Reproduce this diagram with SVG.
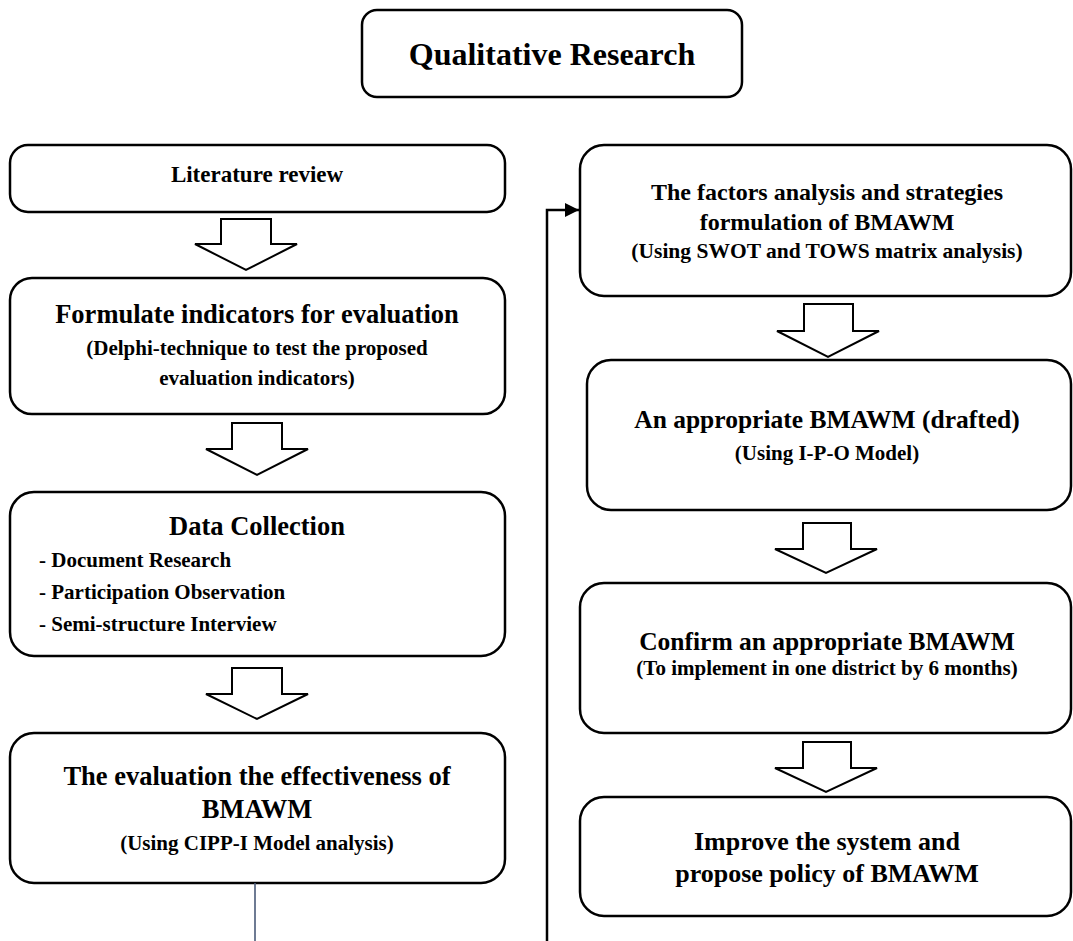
<svg xmlns="http://www.w3.org/2000/svg" width="1073" height="941" viewBox="0 0 1073 941">
<defs>
<style>
.box{fill:#fff;stroke:#000;stroke-width:2.5}
.blk{fill:#fff;stroke:#000;stroke-width:2;stroke-linejoin:miter}
text{font-family:"Liberation Serif","Times New Roman",serif;font-weight:bold;fill:#000}
.c{text-anchor:middle}
.h{font-size:26.5px}
.s{font-size:21px}
</style>
<marker id="ah" viewBox="0 0 14 14" refX="14" refY="7" markerWidth="14" markerHeight="14" markerUnits="userSpaceOnUse" orient="auto">
<path d="M0,0 L14,7 L0,14 Z" fill="#000"/>
</marker>
</defs>
<rect width="1073" height="941" fill="#fff"/>

<g id="title">
<rect class="box" x="362" y="10" width="380" height="87" rx="15"/>
<text class="c" x="552" y="65" font-size="32">Qualitative Research</text>
</g>

<g id="literature">
<rect class="box" x="10" y="145" width="495" height="67" rx="18"/>
<text class="c" x="257" y="182" font-size="23">Literature review</text>
</g>

<g id="formulate">
<rect class="box" x="10" y="278" width="495" height="136" rx="22"/>
<text class="c h" x="257" y="323">Formulate indicators for evaluation</text>
<text class="c s" x="257" y="355">(Delphi-technique to test the proposed</text>
<text class="c s" x="257" y="385">evaluation indicators)</text>
</g>

<g id="datacollection">
<rect class="box" x="10" y="492" width="495" height="164" rx="24"/>
<text class="c h" x="257" y="535">Data Collection</text>
<text class="s" x="39" y="567">- Document Research</text>
<text class="s" x="39" y="599">- Participation Observation</text>
<text class="s" x="39" y="631">- Semi-structure Interview</text>
</g>

<g id="evaluation">
<rect class="box" x="10" y="733" width="495" height="150" rx="24"/>
<text class="c h" x="257" y="785">The evaluation the effectiveness of</text>
<text class="c h" x="257" y="818">BMAWM</text>
<text class="c s" x="257" y="850">(Using CIPP-I Model analysis)</text>
</g>

<g id="factors">
<rect class="box" x="580" y="145" width="491" height="151" rx="24"/>
<text class="c" x="827" y="200" font-size="24">The factors analysis and strategies</text>
<text class="c" x="827" y="230" font-size="24">formulation of BMAWM</text>
<text class="c" x="827" y="258" font-size="21.5">(Using SWOT and TOWS matrix analysis)</text>
</g>

<g id="drafted">
<rect class="box" x="587" y="360" width="484" height="150" rx="24"/>
<text class="c" x="827" y="428" font-size="25.5">An appropriate BMAWM (drafted)</text>
<text class="c s" x="827" y="460">(Using I-P-O Model)</text>
</g>

<g id="confirm">
<rect class="box" x="580" y="583" width="491" height="150" rx="24"/>
<text class="c" x="827" y="650" font-size="25.5">Confirm an appropriate BMAWM</text>
<text class="c s" x="827" y="675">(To implement in one district by 6 months)</text>
</g>

<g id="improve">
<rect class="box" x="580" y="797" width="491" height="119" rx="24"/>
<text class="c" x="827" y="850" font-size="26">Improve the system and</text>
<text class="c" x="827" y="882" font-size="26">propose policy of BMAWM</text>
</g>

<g id="connectors">
<polygon class="blk" points="221,219 271,219 271,244 297,244 246,270 195,244 221,244"/>
<polygon class="blk" points="232,423 282,423 282,449 308,449 257,475 206,449 232,449"/>
<polygon class="blk" points="232,668 282,668 282,694 308,694 257,719 206,694 232,694"/>
<polygon class="blk" points="804,304 853,304 853,331 879,331 828,357 777,331 804,331"/>
<polygon class="blk" points="803,523 851,523 851,549 877,549 826,573 775,549 803,549"/>
<polygon class="blk" points="803,742 851,742 851,768 877,768 826,792 775,768 803,768"/>
<polyline points="547,941 547,210 579,210" fill="none" stroke="#000" stroke-width="2.5" marker-end="url(#ah)"/>
<line x1="255" y1="883" x2="255" y2="941" stroke="#4a5a78" stroke-width="1.6"/>
</g>
</svg>
